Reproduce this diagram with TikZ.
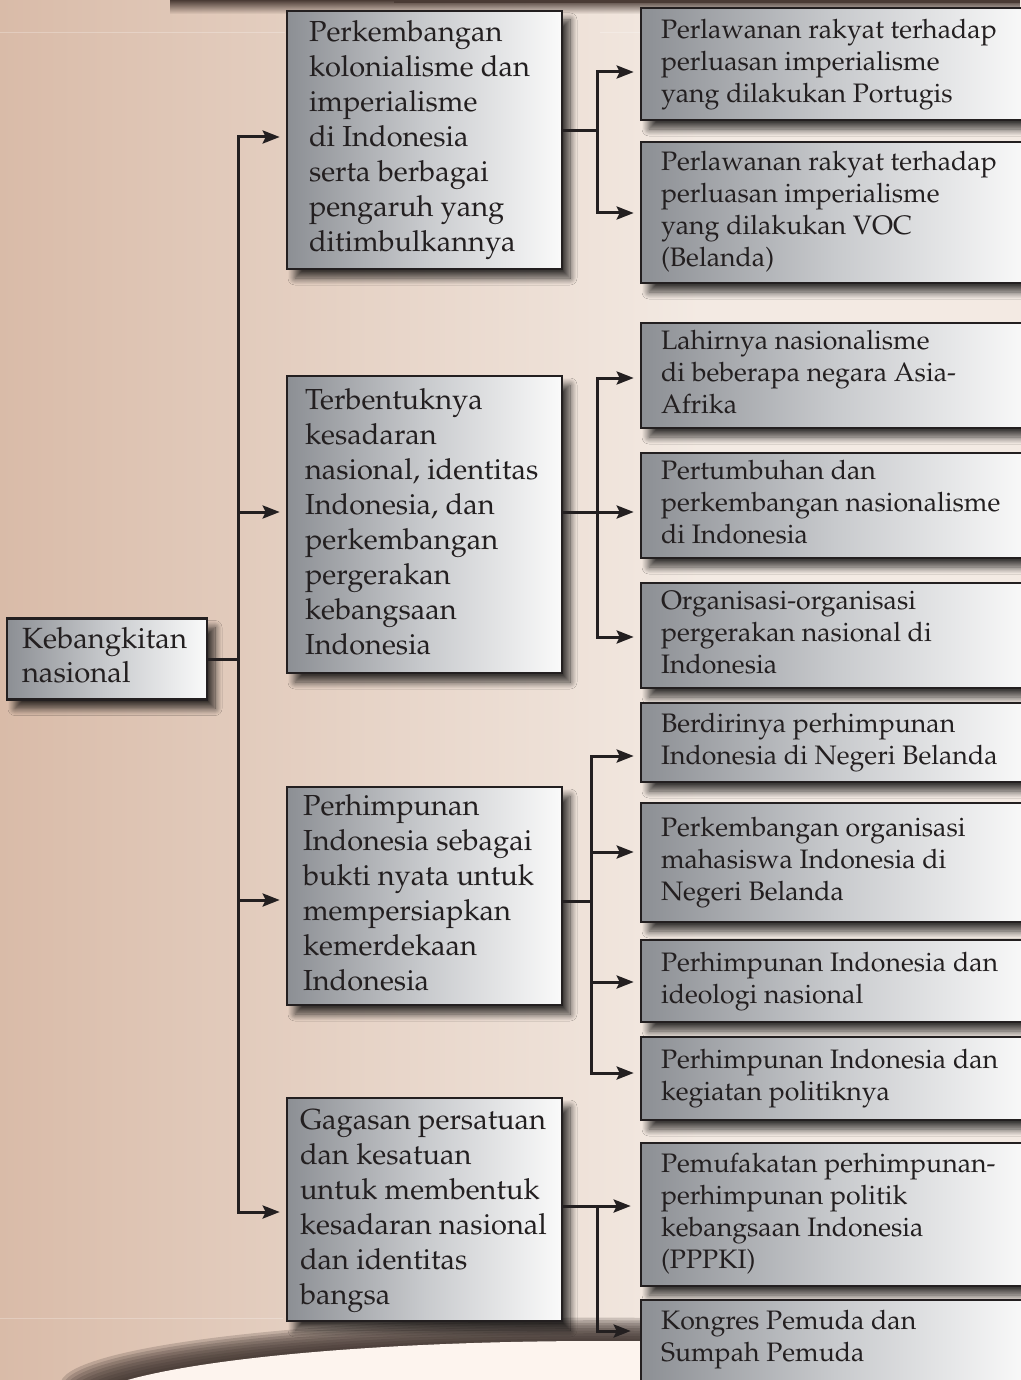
\documentclass[tikz,border=0pt]{standalone}
\usepackage[T1]{fontenc}
\usepackage{mathpazo}
\usetikzlibrary{shadows.blur,arrows.meta,fadings}
\definecolor{ink}{HTML}{231F20}
\definecolor{boxL}{HTML}{8C8F94}
\definecolor{boxM}{HTML}{C8CACD}
\definecolor{boxR}{HTML}{FAFAFA}
\definecolor{bgL}{HTML}{D9BBA8}
\definecolor{bgR}{HTML}{F3EAE3}
\definecolor{topbrown}{HTML}{4A3B35}
\definecolor{shbrown}{HTML}{3A2E2A}
\definecolor{cream}{HTML}{FDF4EE}
\newcommand\boxtxt[2]{\makebox[#1pt][l]{\begin{tabular}{@{}l@{}}#2\end{tabular}}}
\tikzfading[name=fadedown, top color=transparent!0, bottom color=transparent!100]
\tikzset{
  bx/.style={draw=ink, line width=2.6pt, rectangle, inner ysep=2pt, text=ink,
    left color=boxL, right color=boxR, middle color=boxM,
    blur shadow={shadow xshift=8pt, shadow yshift=-9pt, shadow blur radius=7pt, shadow blur steps=12, shadow opacity=75}},
  midbox/.style={bx, minimum width=275, font=\fontsize{29}{35}\selectfont},
  rootbox/.style={bx, minimum width=200, inner xsep=15, font=\fontsize{29.2}{34}\selectfont},
  rbox/.style={bx, minimum width=389, inner xsep=20, font=\fontsize{26.7}{32}\selectfont},
  ln/.style={draw=ink, line width=3pt},
  arr/.style={ln, -{Stealth[length=17pt,width=13pt,inset=3pt]}, shorten >=6pt},
}
\begin{document}
\begin{tikzpicture}[x=1pt,y=-1pt]
\useasboundingbox (0,0) rectangle (1020,1380);
% background
\shade[left color=bgL, right color=bgR] (0,0) rectangle (700,1380);
\fill[bgR] (699,0) rectangle (1021,1380);
\fill[white, opacity=0.25] (0,32.5) rectangle (285,33.5);
\fill[white, opacity=0.25] (600,32.5) rectangle (640,33.5);
\fill[white, opacity=0.25] (0,1317.5) rectangle (283,1318.5);
\fill[topbrown, path fading=fadedown] (170,0) rectangle (1020,14);
\fill[topbrown] (394,0) rectangle (1020,3);
% bottom arc
\foreach \i in {0,...,9}{
  \fill[shbrown, opacity=0.2] (600,1408-2.6*\i) ellipse ({520+2.2*\i} and 67);
}
\fill[cream] (600,1408) ellipse (520 and 67);

% nodes
\node[rootbox, minimum height=81] (root) at (107,659) {\boxtxt{170}{Kebangkitan\\nasional}};

\node[midbox, minimum height=258, inner xsep=22] (m1) at (424.5,140) {\boxtxt{231}{Perkembangan\\kolonialisme dan\\imperialisme\\di Indonesia\\serta berbagai\\pengaruh yang\\ditimbulkannya}};
\node[midbox, minimum height=297, inner xsep=18] (m2) at (424.5,524.5) {\boxtxt{239}{Terbentuknya\\kesadaran\\nasional, identitas\\Indonesia, dan\\perkembangan\\pergerakan\\kebangsaan\\Indonesia}};
\node[midbox, minimum height=218, inner xsep=16] (m3) at (424.5,896) {\boxtxt{243}{Perhimpunan\\Indonesia sebagai\\bukti nyata untuk\\mempersiapkan\\kemerdekaan\\Indonesia}};
\node[midbox, minimum height=223, inner xsep=13] (m4) at (424.5,1209.5) {\boxtxt{249}{Gagasan persatuan\\dan kesatuan\\untuk membentuk\\kesadaran nasional\\dan identitas\\bangsa}};

\node[rbox, minimum height=112] (r1) at (835.5,64) {\boxtxt{349}{Perlawanan rakyat terhadap\\perluasan imperialisme\\yang dilakukan Portugis}};
\node[rbox, minimum height=141] (r2) at (835.5,212.5) {\boxtxt{349}{Perlawanan rakyat terhadap\\perluasan imperialisme\\yang dilakukan VOC\\(Belanda)}};
\node[rbox, minimum height=105] (r3) at (835.5,375.5) {\boxtxt{349}{Lahirnya nasionalisme\\di beberapa negara Asia-\\Afrika}};
\node[rbox, minimum height=105] (r4) at (835.5,505.5) {\boxtxt{349}{Pertumbuhan dan\\perkembangan nasionalisme\\di Indonesia}};
\node[rbox, minimum height=105] (r5) at (835.5,635.5) {\boxtxt{349}{Organisasi-organisasi\\pergerakan nasional di\\Indonesia}};
\node[rbox, minimum height=79] (r6) at (835.5,742.5) {\boxtxt{349}{Berdirinya perhimpunan\\Indonesia di Negeri Belanda}};
\node[rbox, minimum height=119] (r7) at (835.5,862.5) {\boxtxt{349}{Perkembangan organisasi\\mahasiswa Indonesia di\\Negeri Belanda}};
\node[rbox, minimum height=82] (r8) at (835.5,981) {\boxtxt{349}{Perhimpunan Indonesia dan\\ideologi nasional}};
\node[rbox, minimum height=83] (r9) at (835.5,1078.5) {\boxtxt{349}{Perhimpunan Indonesia dan\\kegiatan politiknya}};
\node[rbox, minimum height=143] (r10) at (835.5,1214.5) {\boxtxt{349}{Pemufakatan perhimpunan-\\perhimpunan politik\\kebangsaan Indonesia\\(PPPKI)}};
\node[rbox, minimum height=142] (r11) at (835.5,1371) {\boxtxt{349}{Kongres Pemuda dan\\Sumpah Pemuda\\~\\~}};

% trunk
\coordinate (t0) at (238,659);
\coordinate (t1) at (238,137);
\coordinate (t2) at (238,512);
\coordinate (t3) at (238,900);
\coordinate (t4) at (238,1212);
\draw[ln] (root.east) -- (t0);
\draw[arr] (t4) -- (t1) -- (t1 -| m1.west);
\draw[arr] (t1) -- (t4) -- (t4 -| m4.west);
\draw[arr] (t2) -- (t2 -| m2.west);
\draw[arr] (t3) -- (t3 -| m3.west);

% fork 1
\coordinate (f1) at (597,131);
\coordinate (f1a) at (597,72);
\coordinate (f1b) at (597,213);
\draw[ln] (m1.east |- f1) -- (f1);
\draw[arr] (f1b) -- (f1a) -- (f1a -| r1.west);
\draw[arr] (f1a) -- (f1b) -- (f1b -| r2.west);

% fork 2
\coordinate (f2) at (597,512);
\coordinate (f2a) at (597,378);
\coordinate (f2c) at (597,637);
\draw[ln] (m2.east |- f2) -- (f2);
\draw[arr] (f2c) -- (f2a) -- (f2a -| r3.west);
\draw[arr] (f2a) -- (f2c) -- (f2c -| r5.west);
\draw[arr] (f2) -- (f2 -| r4.west);

% fork 3
\coordinate (f3) at (591,901);
\coordinate (f3a) at (591,756);
\coordinate (f3b) at (591,852);
\coordinate (f3c) at (591,982);
\coordinate (f3d) at (591,1073);
\draw[ln] (m3.east |- f3) -- (f3);
\draw[arr] (f3d) -- (f3a) -- (f3a -| r6.west);
\draw[arr] (f3a) -- (f3d) -- (f3d -| r9.west);
\draw[arr] (f3b) -- (f3b -| r7.west);
\draw[arr] (f3c) -- (f3c -| r8.west);

% fork 4
\coordinate (f4) at (597,1206);
\coordinate (f4b) at (597,1331);
\draw[arr, shorten >=9pt] (m4.east |- f4) -- (f4 -| r10.west);
\draw[arr, shorten >=9pt] (f4) -- (f4b) -- (f4b -| r11.west);
\end{tikzpicture}
\end{document}
